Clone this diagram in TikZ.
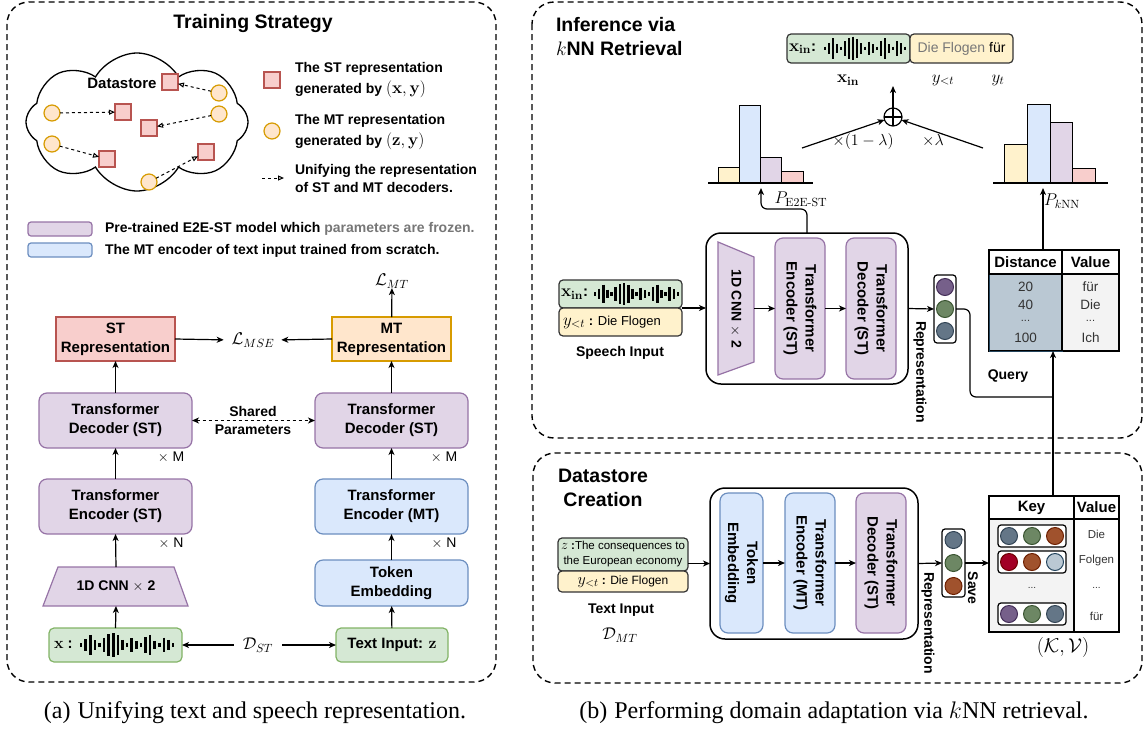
\RequirePackage{fix-cm}
\documentclass[tikz,border=0pt]{standalone}
\usepackage[no-math]{fontspec}
\setmainfont{Liberation Sans}
\newfontfamily\capfont{Liberation Serif}
\usetikzlibrary{shapes.symbols,arrows.meta}
\definecolor{pfill}{HTML}{E1D5E7}\definecolor{pstroke}{HTML}{9673A6}
\definecolor{bfill}{HTML}{DAE8FC}\definecolor{bstroke}{HTML}{6C8EBF}
\definecolor{gfill}{HTML}{D5E8D4}\definecolor{gstroke}{HTML}{82B366}
\definecolor{rfill}{HTML}{F8CECC}\definecolor{rstroke}{HTML}{B85450}
\definecolor{ofill}{HTML}{FFE6CC}\definecolor{ostroke}{HTML}{D79B00}
\definecolor{yfill}{HTML}{FFF2CC}
\definecolor{txtgray}{HTML}{777777}
\definecolor{cpur}{HTML}{76608A}\definecolor{cpurS}{HTML}{432D57}
\definecolor{cgrn}{HTML}{6D8764}\definecolor{cgrnS}{HTML}{3A5431}
\definecolor{cblu}{HTML}{647687}\definecolor{cbluS}{HTML}{314354}
\definecolor{corg}{HTML}{A0522D}\definecolor{corgS}{HTML}{6D1F00}
\definecolor{cred}{HTML}{A20025}\definecolor{credS}{HTML}{6F0000}
\definecolor{clgt}{HTML}{BAC8D3}\definecolor{clgtS}{HTML}{23445D}
\definecolor{lgray}{HTML}{F3F3F3}
\definecolor{dark}{HTML}{333333}
\newcommand\wavebars[4]{%
  \foreach \h [count=\i from 0] in {0.1,0.45,0.85,0.35,0.1,0.6,0.9,1.0,0.8,0.4,0.1,0.55,0.3,0.1,0.65,0.85,0.3,0.1,0.6,0.4,0.1}
    {\draw[line width=2.6pt] ({#1+\i*#3},{#2-\h*#4/2-0.8}) -- ({#1+\i*#3},{#2+\h*#4/2+0.8});}}
\newcommand\mymath[2]{{\fontsize{#1}{#1}\selectfont$#2$}}
\begin{document}
\begin{tikzpicture}[x=1pt,y=-1pt,
  every node/.style={inner sep=0pt,outer sep=0pt},
  ln/.style={line width=1.2pt},
  arr/.style={line width=1.2pt,-{Stealth[length=7pt,width=6pt,inset=2pt]}},
  outerbox/.style={draw,line width=1.4pt,dash pattern=on 6pt off 4pt,rounded corners=22pt},
  pbox/.style={draw=pstroke,fill=pfill,line width=1.2pt,rounded corners=8pt},
  bbox/.style={draw=bstroke,fill=bfill,line width=1.2pt,rounded corners=8pt},
  gbox/.style={draw=gstroke,fill=gfill,line width=1.2pt,rounded corners=5pt},
  ginp/.style={draw=dark,fill=gfill,line width=1.2pt,rounded corners=4pt},
  yinp/.style={draw=dark,fill=yfill,line width=1.2pt,rounded corners=4pt},
  rbox/.style={draw=rstroke,fill=rfill,line width=1.2pt},
  obox/.style={draw=ostroke,fill=ofill,line width=1.2pt},
  lab/.style={font=\fontsize{15}{19}\selectfont\bfseries,align=center},
  leg/.style={font=\fontsize{14}{21}\selectfont\bfseries,align=left,anchor=west},
  bsmall/.style={font=\fontsize{14}{17}\selectfont\bfseries},
  small/.style={font=\fontsize{14}{17}\selectfont},
  mth/.style={font=\fontsize{17}{19}\selectfont},
  ttl/.style={font=\fontsize{19.5}{24}\selectfont\bfseries},
  sq/.style={rbox,minimum size=16pt},
  cir/.style={circle,draw=ostroke,fill=ofill,line width=1.2pt,minimum size=16pt},
  unif/.style={line width=1pt,dashed,-{Triangle[open,length=6pt,width=5pt]}},
  dot/.style={circle,line width=1pt,minimum size=17pt},
  dP/.style={dot,draw=cpurS,fill=cpur},
  dG/.style={dot,draw=cgrnS,fill=cgrn},
  dB/.style={dot,draw=cbluS,fill=cblu},
  dO/.style={dot,draw=corgS,fill=corg},
  dR/.style={dot,draw=credS,fill=cred},
  dL/.style={dot,draw=clgtS,fill=clgt},
  vbox/.style={draw,fill=white,line width=1.2pt,rounded corners=3pt},
  bigbox/.style={draw,line width=1.5pt,rounded corners=15pt},
  rot/.style={lab,rotate=-90},
  capt/.style={font=\capfont\fontsize{24}{28}\selectfont}
]
\useasboundingbox (0,0) rectangle (1147,731);

%================ LEFT PANEL =================
\draw[outerbox] (7,2) rectangle (496,682);
\node[ttl] (tTS) at (253,23) {Training Strategy};
\node[cloud, cloud puffs=8, cloud puff arc=120, cloud ignores aspect, draw, line width=1.3pt, minimum width=222pt, minimum height=138pt] (cloudA) at (137,122) {};
\node[font=\fontsize{15}{18}\selectfont\bfseries] (dslab) at (122,83) {Datastore};
\node[sq] (s1) at (170,82) {};
\node[sq] (s2) at (123,112) {};
\node[sq] (s3) at (149,128) {};
\node[sq] (s4) at (107,159) {};
\node[sq] (s5) at (206,152) {};
\node[cir] (c1) at (219,93) {};
\node[cir] (c2) at (52,113) {};
\node[cir] (c3) at (219,114) {};
\node[cir] (c4) at (52,144) {};
\node[cir] (c5) at (149,182) {};
\draw[unif] (c1) -- (s1);
\draw[unif] (c2) -- (s2);
\draw[unif] (c3) -- (s3);
\draw[unif] (c4) -- (s4);
\draw[unif] (c5) -- (s5);
% legend
\node[sq] (lsq) at (272,80) {};
\node[leg] (lsqt) at (295,80) {The ST representation\\generated by \mymath{17}{(\mathbf{x},\mathbf{y})}};
\node[cir] (lci) at (272,131) {};
\node[leg] (lcit) at (295,132) {The MT representation\\generated by \mymath{17}{(\mathbf{z},\mathbf{y})}};
\coordinate (la1) at (262,178);
\coordinate (la2) at (284,178);
\draw[unif] (la1) -- (la2);
\node[leg,font=\fontsize{14}{18}\selectfont\bfseries] (lart) at (295,178) {Unifying the representation\\of ST and MT decoders.};
\node[draw=pstroke,fill=pfill,line width=1.2pt,rounded corners=3pt,minimum width=64pt,minimum height=14pt] (lp) at (60,229) {};
\node[leg] (lpt) at (105,229) {Pre-trained E2E-ST model which {\color{txtgray}parameters are frozen.}};
\node[draw=bstroke,fill=bfill,line width=1.2pt,rounded corners=3pt,minimum width=64pt,minimum height=14pt] (lb) at (60,250) {};
\node[leg] (lbt) at (105,251) {The MT encoder of text input trained from scratch.};

% model
\node[rbox,lab,minimum width=119pt,minimum height=44pt] (strep) at (115.5,339) {ST\\Representation};
\node[obox,lab,minimum width=119pt,minimum height=44pt] (mtrep) at (391.5,339) {MT\\Representation};
\node[mth] (lmse) at (253,340) {$\mathcal{L}_{MSE}$};
\node[mth] (lmt) at (392,281) {$\mathcal{L}_{MT}$};
\node[pbox,lab,minimum width=153pt,minimum height=55pt] (decL) at (115.5,420.5) {Transformer\\Decoder (ST)};
\node[pbox,lab,minimum width=153pt,minimum height=55pt] (decR) at (391.5,420.5) {Transformer\\Decoder (ST)};
\node[bsmall,align=center,font=\fontsize{14}{18}\selectfont\bfseries] (shp) at (253,420) {Shared\\Parameters};
\node[small] (xM1) at (171,457) {$\times$ M};
\node[small] (xM2) at (444,457) {$\times$ M};
\node[pbox,lab,minimum width=153pt,minimum height=55pt] (encL) at (115.5,506.5) {Transformer\\Encoder (ST)};
\node[bbox,lab,minimum width=153pt,minimum height=55pt] (encR) at (391.5,506.5) {Transformer\\Encoder (MT)};
\node[small] (xN1) at (171,543) {$\times$ N};
\node[small] (xN2) at (444,543) {$\times$ N};
\draw[draw=pstroke,fill=pfill,line width=1.2pt] (43,606) -- (58,567) -- (174,567) -- (188,606) -- cycle;
\node[lab,font=\fontsize{14}{18}\selectfont\bfseries,minimum width=130pt,minimum height=39pt] (cnnL) at (116,586.5) {1D CNN $\times$ 2};
\node[bbox,lab,minimum width=153pt,minimum height=46pt] (tokL) at (391.5,583) {Token\\Embedding};
\node[gbox,minimum width=133pt,minimum height=34pt] (xin) at (115.5,645) {};
\node[font=\fontsize{15}{18}\selectfont\bfseries,anchor=west] (xinl) at (54,645) {\mymath{16}{\mathbf{x}} :};
\wavebars{81}{645}{4.6}{22}
\node[gbox,lab,minimum width=112pt,minimum height=34pt] (txtin) at (392,645) {Text Input: \mymath{16}{\mathbf{z}}};
\node[mth] (dst) at (258,645) {$\mathcal{D}_{ST}$};

\draw[arr] (xin.north) -- (cnnL.south);
\draw[arr] (cnnL.north) -- (encL.south);
\draw[arr] (encL) -- (decL);
\draw[arr] (decL) -- (strep);
\draw[arr] (txtin) -- (tokL);
\draw[arr] (tokL) -- (encR);
\draw[arr] (encR) -- (decR);
\draw[arr] (decR) -- (mtrep);
\draw[arr] (mtrep) -- (lmt);
\draw[arr,shorten >=8pt] (strep.east) -- (lmse.west);
\draw[arr,shorten >=7pt] (mtrep.west) -- (lmse.east);
\draw[arr,shorten <=9pt] (dst.west) -- (xin.east);
\draw[arr,shorten <=9pt] (dst.east) -- (txtin.west);
\draw[line width=1.2pt,dashed,{Stealth[length=7pt,width=6pt,inset=2pt]}-{Stealth[length=7pt,width=6pt,inset=2pt]}] (decL.east) -- (decR.west);

\node[capt] (capa) at (255,713) {(a)\hspace{7pt}Unifying text and speech representation.};

%================ RIGHT TOP PANEL =================
\draw[outerbox] (532,2) rectangle (1142,438);
\node[ttl,align=left,anchor=west] (tinf) at (556,37) {Inference via\\$k$NN Retrieval};
\node[ginp,minimum width=123pt,minimum height=29pt] (topx) at (848.5,48.5) {};
\node[yinp,minimum width=103pt,minimum height=29pt] (topy) at (961.5,48.5) {};
\node[font=\fontsize{15}{18}\selectfont\bfseries,anchor=west] (topxl) at (789,48.5) {\mymath{17}{\mathbf{x}_{\mathbf{in}}}:};
\wavebars{825}{48.5}{4.0}{22}
\node[small] (topyl) at (961.5,48.5) {{\color{txtgray}Die Flogen} für};
\node[font=\fontsize{17}{18}\selectfont] (lx) at (848,80) {$\mathbf{x}_{\mathbf{in}}$};
\node[font=\fontsize{17}{18}\selectfont] (ly) at (943,80) {$y_{<t}$};
\node[font=\fontsize{17}{18}\selectfont] (lyt) at (998,80) {$y_t$};
\node[circle,draw,line width=1.2pt,minimum size=18pt] (plus) at (893,117) {};
\draw[ln] (plus.north) -- (plus.south) (plus.west) -- (plus.east);
\coordinate (outtop) at (893,86);
\draw[arr] (plus.north) -- (outtop);
\coordinate (h1) at (802,148);
\coordinate (h2) at (983,148);
\draw[arr] (h1) -- (plus);
\draw[arr] (h2) -- (plus);
\node[font=\fontsize{16}{18}\selectfont] (wl) at (863,141) {$\times(1-\lambda)$};
\node[font=\fontsize{16}{18}\selectfont] (wr) at (933,141) {$\times\lambda$};
% histograms
\draw[line width=1pt,fill=yfill] (718,183) rectangle (739,167);
\draw[line width=1pt,fill=bfill] (739,183) rectangle (760,105);
\draw[line width=1pt,fill=pfill] (760,183) rectangle (781,157);
\draw[line width=1pt,fill=rfill] (781,183) rectangle (803,171);
\draw[ln] (708,183) -- (813,183);
\draw[line width=1pt,fill=yfill] (1004,183) rectangle (1027,144);
\draw[line width=1pt,fill=bfill] (1027,183) rectangle (1050,104);
\draw[line width=1pt,fill=pfill] (1050,183) rectangle (1072,122);
\draw[line width=1pt,fill=rfill] (1072,183) rectangle (1095,168);
\draw[ln] (993,183) -- (1108,183);
\node[font=\fontsize{17}{18}\selectfont] (pe2e) at (801,199) {$P_{\mathrm{E2E\mathchar"2D ST}}$};
\node[font=\fontsize{17}{18}\selectfont] (pknn) at (1062,201) {$P_{k\mathrm{NN}}$};
% speech input
\node[ginp,minimum width=123pt,minimum height=28pt] (spx) at (620.5,294) {};
\node[yinp,minimum width=123pt,minimum height=28pt] (spy) at (620.5,322) {};
\node[font=\fontsize{15}{18}\selectfont\bfseries,anchor=west] (spxl) at (561,294) {\mymath{17}{\mathbf{x}_{\mathbf{in}}}:};
\wavebars{595}{294}{4.15}{20}
\node[font=\fontsize{13}{16}\selectfont,anchor=west] (spyl) at (563,322) {\mymath{17}{y_{<t}} \textbf{:} Die Flogen};
\node[bsmall] (spl) at (620,353) {Speech Input};
% model
\node[bigbox,minimum width=202pt,minimum height=151pt] (big1) at (807,308.5) {};
\draw[draw=pstroke,fill=pfill,line width=1.2pt] (718,242) -- (754,257) -- (754,362) -- (718,375) -- cycle;
\node[minimum width=36pt,minimum height=133pt] (cnn2) at (736,308.5) {};
\node[rot,font=\fontsize{14}{18}\selectfont\bfseries] (cnn2t) at (736,308.5) {1D CNN $\times$ 2};
\node[pbox,minimum width=50pt,minimum height=141pt] (enc2) at (800,308.5) {};
\node[rot] (enc2t) at (800,308.5) {Transformer\\Encoder (ST)};
\node[pbox,minimum width=50pt,minimum height=141pt] (dec2) at (871,308.5) {};
\node[rot] (dec2t) at (871,308.5) {Transformer\\Decoder (ST)};
\node[vbox,minimum width=22pt,minimum height=68pt] (vec1) at (945,309) {};
\node[dP] (v1a) at (945,287) {};
\node[dG] (v1b) at (945,309) {};
\node[dB] (v1c) at (945,331) {};
\node[rot,font=\fontsize{14}{17}\selectfont\bfseries] (rep1) at (920,372) {Representation};
\draw[arr] (spx.south east) -- (spx.south east -| big1.west);
\draw[arr] (cnn2.east) -- (enc2.west);
\draw[arr] (enc2.east) -- (dec2.west);
\draw[arr] (big1.east) -- (vec1.west);
\coordinate (h1b) at (761,188);
\draw[arr,rounded corners=6pt] (big1.north) -- (807,209) -- (761,209) -- (h1b);
% distance table
\fill[clgt] (989,274) rectangle (1062,351);
\fill[lgray] (1062,274) rectangle (1119,351);
\node[draw,line width=1.5pt,minimum width=130pt,minimum height=101pt] (distT) at (1054,300.5) {};
\draw[line width=1pt,clgtS] (989,274) rectangle (1062,351);
\draw[line width=1.5pt] (989,274) -- (1119,274) (1062,250) -- (1062,351);
\node[font=\fontsize{15}{18}\selectfont\bfseries] (dh1) at (1025.5,262) {Distance};
\node[font=\fontsize{15}{18}\selectfont\bfseries] (dh2) at (1090.5,262) {Value};
\node[font=\fontsize{13.5}{16}\selectfont,text=dark] (d1) at (1025.5,287) {20};
\node[font=\fontsize{13.5}{16}\selectfont,text=dark] (d2) at (1025.5,305) {40};
\node[font=\fontsize{11}{14}\selectfont,text=dark] (d3) at (1025.5,321) {...};
\node[font=\fontsize{13.5}{16}\selectfont,text=dark] (d4) at (1025.5,338) {100};
\node[font=\fontsize{13.5}{16}\selectfont,text=dark] (e1) at (1090.5,287) {für};
\node[font=\fontsize{13.5}{16}\selectfont,text=dark] (e2) at (1090.5,305) {Die};
\node[font=\fontsize{11}{14}\selectfont,text=dark] (e3) at (1090.5,321) {...};
\node[font=\fontsize{13.5}{16}\selectfont,text=dark] (e4) at (1090.5,338) {Ich};
\coordinate (h2b) at (1043,188);
\draw[arr] (distT.north -| h2b) -- (h2b);
\coordinate (qj) at (1053,397);
\draw[ln,rounded corners=6pt] (vec1.east) -- (970,309) -- (970,397) -- (qj);
\node[bsmall] (qry) at (1008,376) {Query};

%================ RIGHT BOTTOM PANEL =================
\draw[outerbox] (533,453) rectangle (1142,683);
\node[ttl,align=center] (tds) at (603,488) {Datastore\\Creation};
\node[ginp,minimum width=130pt,minimum height=33pt] (txz) at (623,554.5) {};
\node[yinp,minimum width=130pt,minimum height=21pt] (txy) at (623,581.5) {};
\node[font=\fontsize{11.5}{15}\selectfont,align=center] (txzl) at (623,554.5) {\mymath{14}{z} \textbf{:}The consequences to\\the European economy};
\node[font=\fontsize{12}{14}\selectfont] (txyl) at (623,581.5) {\mymath{16}{y_{<t}} \textbf{:} Die Flogen};
\node[bsmall] (txl) at (621,610) {Text Input};
\node[mth] (dmt) at (620,635) {$\mathcal{D}_{MT}$};
\node[bigbox,minimum width=208pt,minimum height=151pt] (big2) at (814,563.5) {};
\node[bbox,minimum width=43pt,minimum height=140pt] (tok2) at (741.5,563) {};
\node[rot] (tok2t) at (741.5,563) {Token\\Embedding};
\node[bbox,minimum width=50pt,minimum height=140pt] (enc3) at (810,563) {};
\node[rot] (enc3t) at (810,563) {Transformer\\Encoder (MT)};
\node[pbox,minimum width=50pt,minimum height=140pt] (dec3) at (881,563) {};
\node[rot] (dec3t) at (881,563) {Transformer\\Decoder (ST)};
\node[vbox,minimum width=23pt,minimum height=68pt] (vec2) at (953.5,563) {};
\node[dB] (v2a) at (953.5,540) {};
\node[dG] (v2b) at (953.5,563) {};
\node[dO] (v2c) at (953.5,586) {};
\node[rot,font=\fontsize{14}{17}\selectfont\bfseries] (rep2) at (928,623) {Representation};
\node[rot,font=\fontsize{14}{17}\selectfont\bfseries] (save) at (973,588) {Save};
% key table
\fill[lgray] (989,519) rectangle (1074,632);
\node[draw,line width=1.5pt,minimum width=130pt,minimum height=136pt] (keyT) at (1054,564) {};
\draw[line width=1.5pt] (989,519) -- (1119,519) (1074,496) -- (1074,632);
\node[font=\fontsize{15}{18}\selectfont\bfseries] (kh1) at (1031.5,507.5) {Key};
\node[font=\fontsize{15}{18}\selectfont\bfseries] (kh2) at (1096.5,507.5) {Value};
\node[vbox,minimum width=68pt,minimum height=22pt] (r1) at (1032,536) {};
\node[vbox,minimum width=68pt,minimum height=22pt] (r2) at (1032,562) {};
\node[vbox,minimum width=68pt,minimum height=22pt] (r3) at (1032,614) {};
\node[dB] (k11) at (1009,536) {};
\node[dG] (k12) at (1032,536) {};
\node[dO] (k13) at (1055,536) {};
\node[dR] (k21) at (1009,562) {};
\node[dO] (k22) at (1032,562) {};
\node[dL] (k23) at (1055,562) {};
\node[dP] (k31) at (1009,614) {};
\node[dG] (k32) at (1032,614) {};
\node[dB] (k33) at (1055,614) {};
\node[font=\fontsize{10}{12}\selectfont,text=dark] (kdots) at (1032,588) {...};
\node[font=\fontsize{10}{12}\selectfont,text=dark] (vdots) at (1096.5,588) {...};
\node[font=\fontsize{11.5}{14}\selectfont,text=dark] (kv1) at (1096.5,534) {Die};
\node[font=\fontsize{11.5}{14}\selectfont,text=dark] (kv2) at (1096.5,561) {Folgen};
\node[font=\fontsize{11.5}{14}\selectfont,text=dark] (kv3) at (1096.5,616) {für};
\node[font=\fontsize{20}{22}\selectfont] (kvl) at (1063,647) {$(\mathcal{K},\mathcal{V})$};
\draw[arr] (txz.east |- big2.west) -- (big2.west);
\draw[arr] (tok2) -- (enc3);
\draw[arr] (enc3) -- (dec3);
\draw[arr] (big2.east) -- (vec2.west);
\draw[arr] (vec2.east) -- (vec2.east -| keyT.west);
\draw[arr] (keyT.north -| qj) -- (distT.south -| qj);

\node[capt] (capb) at (834,713) {(b)\hspace{7pt}Performing domain adaptation via $k$NN retrieval.};
\end{tikzpicture}
\end{document}
